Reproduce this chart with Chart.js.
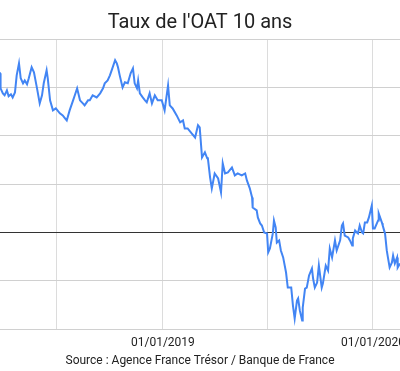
<!DOCTYPE html>
<html>
<head>
<meta charset="utf-8">
<script src="https://cdn.jsdelivr.net/npm/chart.js@4"></script>
<style>
  body { margin: 0; background: #fff; }
  #clip { width: 400px; height: 371px; overflow: hidden; }
  #wrap { width: 440px; height: 371px; position: relative; }
</style>
</head>
<body>
<div id="clip"><div id="wrap"><canvas id="oat-chart"></canvas></div></div>
<script>
// start: data (taux OAT 10 ans, en %)
const dates = [
    '2018-03-17', '2018-03-24', '2018-03-25', '2018-03-29', '2018-04-01', '2018-04-05', '2018-04-08', '2018-04-12',
    '2018-04-15', '2018-04-19', '2018-04-22', '2018-04-26', '2018-04-29', '2018-05-03', '2018-05-06', '2018-05-10',
    '2018-05-13', '2018-05-18', '2018-05-22', '2018-05-27', '2018-06-01', '2018-06-05', '2018-06-08', '2018-06-13',
    '2018-06-15', '2018-06-19', '2018-06-24', '2018-06-29', '2018-07-06', '2018-07-11', '2018-07-15', '2018-07-18',
    '2018-07-23', '2018-07-29', '2018-08-01', '2018-08-05', '2018-08-10', '2018-08-15', '2018-08-18', '2018-08-24',
    '2018-08-27', '2018-09-01', '2018-09-08', '2018-09-14', '2018-09-19', '2018-09-22', '2018-09-27', '2018-10-01',
    '2018-10-04', '2018-10-10', '2018-10-13', '2018-10-15', '2018-10-18', '2018-10-23', '2018-10-27', '2018-11-01',
    '2018-11-06', '2018-11-10', '2018-11-13', '2018-11-17', '2018-11-19', '2018-11-22', '2018-11-27', '2018-12-01',
    '2018-12-04', '2018-12-09', '2018-12-13', '2018-12-18', '2018-12-23', '2018-12-30', '2019-01-04', '2019-01-10',
    '2019-01-13', '2019-01-18', '2019-01-25', '2019-01-31', '2019-02-05', '2019-02-08', '2019-02-13', '2019-02-20',
    '2019-02-26', '2019-03-03', '2019-03-06', '2019-03-10', '2019-03-15', '2019-03-19', '2019-03-20', '2019-03-24',
    '2019-03-27', '2019-04-01', '2019-04-07', '2019-04-12', '2019-04-15', '2019-04-19', '2019-04-24', '2019-05-01',
    '2019-05-06', '2019-05-11', '2019-05-18', '2019-05-24', '2019-05-27', '2019-06-01', '2019-06-05', '2019-06-06',
    '2019-06-13', '2019-06-15', '2019-06-19', '2019-06-22', '2019-06-26', '2019-06-27', '2019-07-01', '2019-07-03',
    '2019-07-06', '2019-07-11', '2019-07-13', '2019-07-16', '2019-07-18', '2019-07-22', '2019-07-25', '2019-07-29',
    '2019-08-03', '2019-08-06', '2019-08-12', '2019-08-15', '2019-08-18', '2019-08-22', '2019-08-24', '2019-08-27',
    '2019-08-31', '2019-09-01', '2019-09-05', '2019-09-08', '2019-09-12', '2019-09-17', '2019-09-19', '2019-09-22',
    '2019-09-26', '2019-09-29', '2019-10-04', '2019-10-06', '2019-10-11', '2019-10-15', '2019-10-18', '2019-10-22',
    '2019-10-27', '2019-10-30', '2019-11-05', '2019-11-08', '2019-11-10', '2019-11-13', '2019-11-19', '2019-11-22',
    '2019-11-26', '2019-11-27', '2019-12-01', '2019-12-04', '2019-12-06', '2019-12-09', '2019-12-13', '2019-12-15',
    '2019-12-18', '2019-12-22', '2019-12-25', '2019-12-30', '2020-01-01', '2020-01-04', '2020-01-10', '2020-01-11',
    '2020-01-17', '2020-01-18', '2020-01-22', '2020-01-25', '2020-01-27', '2020-01-30', '2020-02-03', '2020-02-05',
    '2020-02-08', '2020-02-12', '2020-02-13', '2020-02-17', '2020-02-20'
]

const taux = [
    0.848, 0.823, 0.745, 0.719, 0.709, 0.735, 0.704, 0.714,
    0.698, 0.724, 0.812, 0.874, 0.797, 0.771, 0.786, 0.766,
    0.797, 0.854, 0.828, 0.750, 0.667, 0.709, 0.771, 0.838,
    0.797, 0.683, 0.631, 0.641, 0.616, 0.605, 0.590, 0.579,
    0.631, 0.683, 0.709, 0.745, 0.683, 0.667, 0.657, 0.683,
    0.683, 0.709, 0.698, 0.719, 0.745, 0.771, 0.786, 0.812,
    0.838, 0.890, 0.874, 0.854, 0.812, 0.750, 0.776, 0.771,
    0.823, 0.848, 0.771, 0.745, 0.786, 0.719, 0.698, 0.683,
    0.673, 0.719, 0.667, 0.709, 0.683, 0.683, 0.631, 0.760,
    0.657, 0.641, 0.605, 0.569, 0.579, 0.538, 0.538, 0.512,
    0.491, 0.554, 0.543, 0.388, 0.414, 0.383, 0.388, 0.285,
    0.228, 0.305, 0.279, 0.207, 0.357, 0.305, 0.310, 0.336,
    0.295, 0.305, 0.295, 0.305, 0.269, 0.228, 0.181, 0.129,
    0.114, 0.078, 0.047, 0.036, 0.000, 0.000, -0.005, -0.103,
    -0.083, -0.005, 0.062, 0.026, -0.052, -0.041, -0.093, -0.129,
    -0.207, -0.285, -0.285, -0.378, -0.445, -0.352, -0.341, -0.404,
    -0.455, -0.388, -0.290, -0.285, -0.222, -0.186, -0.238, -0.285,
    -0.259, -0.171, -0.285, -0.264, -0.171, -0.197, -0.083, -0.129,
    -0.041, -0.093, -0.041, 0.036, 0.047, -0.016, -0.026, -0.041,
    -0.067, -0.031, 0.010, 0.000, -0.005, 0.036, 0.000, -0.005,
    0.052, 0.052, 0.078, 0.140, 0.021, 0.021, 0.062, 0.098,
    0.047, 0.036, -0.005, -0.093, -0.129, -0.181, -0.155, -0.119,
    -0.160, -0.129, -0.181, -0.160, -0.150
]

const yTicks = [-0.5, -0.25, 0, 0.25, 0.5, 0.75, 1]
const xGridDates = ['2018-07-01', '2019-01-01', '2019-07-01', '2020-01-01']
const xLabelDates = ['2019-01-01', '2020-01-01']
const xRange = ['2018-03-24', '2020-02-17']
// end: data

function toDay(s) {
    const p = s.split('-')
    return Date.UTC(+p[0], +p[1] - 1, +p[2]) / 86400000
}

function fmtDay(d) {
    const dt = new Date(d * 86400000)
    const dd = String(dt.getUTCDate()).padStart(2, '0')
    const mm = String(dt.getUTCMonth() + 1).padStart(2, '0')
    return dd + '/' + mm + '/' + dt.getUTCFullYear()
}

const points = dates.map((d, i) => ({ x: toDay(d), y: taux[i] }))
const labelDays = xLabelDates.map(toDay)

const oatChart = new Chart(document.getElementById('oat-chart'), {
    type: 'line',
    data: {
        datasets: [{
            data: points,
            borderColor: '#4285f4',
            borderWidth: 2,
            pointRadius: 0,
            tension: 0,
            fill: false
        }]
    },
    options: {
        responsive: true,
        maintainAspectRatio: false,
        animation: false,
        // the canvas is 40px wider than the page so the plot runs past the right edge
        layout: { padding: { left: 0, right: 40, top: 0, bottom: 0 } },
        plugins: {
            legend: { display: false },
            tooltip: { enabled: false },
            title: {
                display: true,
                text: "Taux de l'OAT 10 ans",
                color: '#222',
                font: { family: 'Roboto', size: 20, weight: 'normal' },
                padding: { top: 11, bottom: 4 }
            }
        },
        scales: {
            x: {
                type: 'linear',
                min: toDay(xRange[0]),
                max: toDay(xRange[1]),
                afterBuildTicks: function(scale) {
                    scale.ticks = xGridDates.map(d => ({ value: toDay(d) }))
                },
                ticks: {
                    autoSkip: false,
                    maxRotation: 0,
                    padding: 7,
                    color: '#222',
                    font: { family: 'Roboto', size: 12 },
                    callback: function(value) {
                        return labelDays.includes(value) ? fmtDay(value) : ''
                    }
                },
                grid: { color: '#dcdcdc', drawTicks: false },
                border: { display: false },
                title: {
                    display: true,
                    text: 'Source : Agence France Trésor / Banque de France',
                    color: '#222',
                    font: { family: 'Roboto', size: 12 },
                    padding: { top: -4, bottom: 3 }
                }
            },
            y: {
                min: yTicks[0],
                max: yTicks[yTicks.length - 1],
                afterBuildTicks: function(scale) {
                    scale.ticks = yTicks.map(v => ({ value: v }))
                },
                ticks: { display: false },
                grid: {
                    drawTicks: false,
                    color: function(ctx) {
                        return ctx.tick && ctx.tick.value === 0 ? '#333' : '#d0d0d0'
                    }
                },
                border: { display: false }
            }
        }
    }
})
</script>
</body>
</html>
